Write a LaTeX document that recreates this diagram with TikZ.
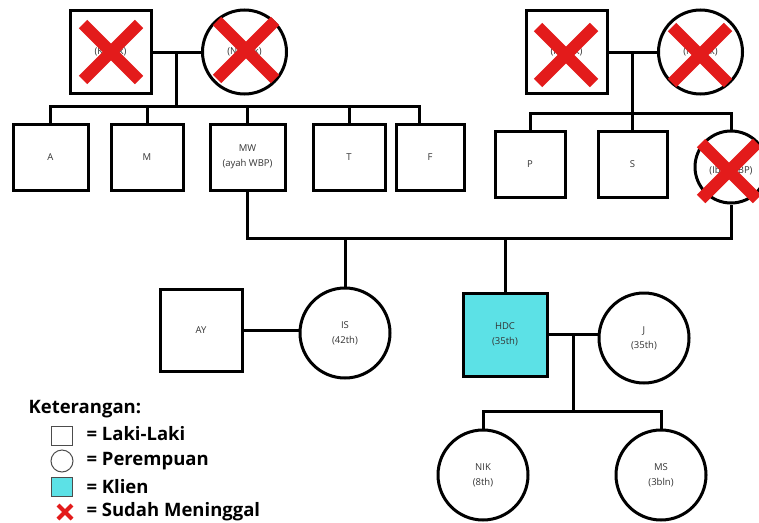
\documentclass[tikz,border=0pt]{standalone}
\usepackage{fontspec}
\setmainfont{Open Sans}
\usetikzlibrary{positioning,calc}
\definecolor{klien}{HTML}{5CE1E6}
\definecolor{merah}{HTML}{E31B1B}
\definecolor{teks}{HTML}{333333}

\tikzset{
  garis/.style={line width=3pt},
  lk/.style={draw, line width=3pt, fill=white, minimum width=#1, minimum height=66pt,
    inner sep=0pt, align=center, text=teks, font=\fontsize{9.5}{15}\selectfont},
  lk/.default=72pt,
  pr/.style={draw, circle, line width=3pt, fill=white, minimum size=#1,
    inner sep=0pt, align=center, text=teks, font=\fontsize{9.5}{15}\selectfont},
  pr/.default=90pt,
  silang/.style={draw=merah, line cap=butt},
  ket/.style={anchor=west, font=\fontsize{18.5}{22}\selectfont\bfseries},
}
% tanda sudah meninggal
\newcommand{\silang}[3][12pt]{%
  \draw[silang, line width=#1] ($(#2)+(-#3,-#3)$) -- ($(#2)+(#3,#3)$)
    ($(#2)+(-#3,#3)$) -- ($(#2)+(#3,-#3)$);}

\begin{document}
\begin{tikzpicture}[x=1pt, y=-1pt]
  \useasboundingbox (0,0) rectangle (759,522);

  % Kakek & Nenek (dari ayah)
  \node[lk=81pt, minimum height=83pt] (kakek1) at (110.5,52) {(Kakek)};
  \node[pr=84pt] (nenek1) at (244.5,52) {(Nenek)};
  \coordinate (k1) at ($(kakek1.east)!0.5!(nenek1.west)$);
  \coordinate (sib1) at ($(k1)+(0,54)$);

  % Anak-anaknya
  \node[lk=75pt] (A) at (50.5,157) {A};
  \node[lk=72pt] (M) at (147,157) {M};
  \node[lk=75pt] (MW) at (247.5,157) {MW\\(ayah WBP)};
  \node[lk=72pt] (T) at (349,157) {T};
  \node[lk=68pt] (F) at (430,157) {F};

  \draw[garis] (kakek1.east) -- (nenek1.west);
  \draw[garis] (k1) -- (sib1);
  \draw[garis] (A.north) -- (A.north |- sib1) -- ([xshift=-11pt]F.north |- sib1) -- ([xshift=-11pt]F.north);
  \foreach \n in {M,MW,T}
    \draw[garis] (\n.north) -- (\n.north |- sib1);

  % Kakek & Nenek (dari ibu)
  \node[lk=81pt, minimum height=83pt] (kakek2) at (566.5,52) {(Kakek)};
  \node[pr=84pt] (nenek2) at (700.5,52) {(Nenek)};
  \coordinate (k2) at ($(kakek2.east)!0.5!(nenek2.west)$);
  \coordinate (sib2) at ($(k2)+(0,61)$);

  \node[lk=70pt] (P) at (530,164) {P};
  \node[lk=69pt] (S) at (632.5,164) {S};
  \node[pr=72pt] (ibu) at (731,167) {\\(Ibu WBP)};

  \draw[garis] (kakek2.east) -- (nenek2.west);
  \draw[garis] (k2) -- (sib2);
  \draw[garis] (P.north) -- (P.north |- sib2) -- (ibu.north |- sib2) -- (ibu.north);
  \draw[garis] (S.north) -- (S.north |- sib2);

  % Generasi WBP
  \node[lk=82pt, minimum height=82pt] (AY) at (201,330) {AY};
  \node[pr] (IS) at (345,333) {IS\\(42th)};
  \node[lk=84pt, minimum height=83pt, fill=klien] (HDC) at (505,334.5) {HDC\\(35th)};
  \node[pr] (J) at (644,338) {J\\(35th)};

  \coordinate (nikah) at (0,238);
  \draw[garis] (MW.south) -- (MW.south |- nikah) -- (ibu.south |- nikah) -- (ibu.south);
  \draw[garis] (IS.north) -- (IS.north |- nikah);
  \draw[garis] (HDC.north) -- (HDC.north |- nikah);
  \draw[garis] (AY.east) -- (AY.east -| IS.west);
  \draw[garis] (HDC.east) -- (HDC.east -| J.west);

  % Anak klien
  \node[pr] (NIK) at (483,475) {NIK\\(8th)};
  \node[pr] (MS) at (661,475) {MS\\(3bln)};
  \coordinate (k3) at ($(HDC.east)!0.5!(HDC.east -| J.west)$);
  \coordinate (sib3) at ($(k3)+(0,77)$);
  \draw[garis] (k3) -- (sib3);
  \draw[garis] (NIK.north) -- (NIK.north |- sib3) -- (MS.north |- sib3) -- (MS.north);

  % yang sudah meninggal
  \silang{111,52}{28}
  \silang{246,50}{29}
  \silang{566,55}{28}
  \silang{700,55}{28}
  \silang{729,171}{28}

  % Keterangan
  \node[ket] (judul) at (25,409) {Keterangan:};
  \node[draw=black!70, line width=1pt, minimum width=21pt, minimum height=19pt, inner sep=0pt] (lgL) at (62,436) {};
  \node[draw=black!70, line width=1pt, circle, minimum size=22pt, inner sep=0pt] (lgP) at (62,461) {};
  \node[draw=black!70, line width=1pt, fill=klien, minimum width=21pt, minimum height=19pt, inner sep=0pt] (lgK) at (62,487) {};
  \silang[4pt]{65,512}{7}
  \node[ket] at (83,434) {= Laki-Laki};
  \node[ket] at (83,461) {= Perempuan};
  \node[ket] at (83,487) {= Klien};
  \node[ket] at (83,512) {= Sudah Meninggal};
\end{tikzpicture}
\end{document}
